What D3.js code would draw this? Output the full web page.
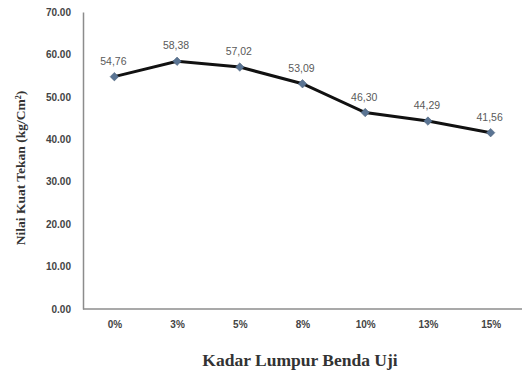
<!DOCTYPE html>
<html><head><meta charset="utf-8">
<script src="https://cdn.jsdelivr.net/npm/d3@7"></script>
<style>body{margin:0;background:#fff}svg{display:block}</style>
</head><body>
<script>
const categories = ["0%","3%","5%","8%","10%","13%","15%"];
const values = [54.76, 58.38, 57.02, 53.09, 46.30, 44.29, 41.56];
const valueLabels = ["54,76","58,38","57,02","53,09","46,30","44,29","41,56"];
const yTicks = [0,10,20,30,40,50,60,70];

const W = 525, H = 374;
const m = {left: 83, right: 3, top: 12, bottom: 65};
const svg = d3.select("body").append("svg").attr("width", W).attr("height", H);

const x = d3.scalePoint().domain(categories).range([m.left, W - m.right]).padding(0.5);
const y = d3.scaleLinear().domain([0, 70]).range([H - m.bottom, m.top]);

// y axis
const ya = svg.append("g").attr("transform", `translate(${m.left},0)`)
  .call(d3.axisLeft(y).tickValues(yTicks).tickSize(0).tickPadding(12).tickFormat(d => d3.format(".2f")(d)));
ya.select(".domain").attr("stroke", "#8c8c8c").attr("stroke-width", 1.5);
ya.selectAll("text").attr("font-family", "Liberation Sans, Arial, sans-serif").attr("font-size", 10).attr("font-weight", "bold").attr("fill", "#444");

// x axis
const xa = svg.append("g").attr("transform", `translate(0,${H - m.bottom})`)
  .call(d3.axisBottom(x).tickSize(0).tickPadding(12));
xa.select(".domain").attr("stroke", "#8c8c8c").attr("stroke-width", 1.5).attr("d", `M${m.left},0H${W - m.right}`);
xa.selectAll("text").attr("font-family", "Liberation Sans, Arial, sans-serif").attr("font-size", 10).attr("font-weight", "bold").attr("fill", "#444");

// line
const line = d3.line().x((d, i) => x(categories[i])).y(d => y(d));
svg.append("path").datum(values).attr("d", line).attr("fill", "none").attr("stroke", "#111").attr("stroke-width", 3);

// markers (square rotated 45 deg)
svg.selectAll(".pt").data(values).join("path").attr("class", "pt")
  .attr("d", d3.symbol(d3.symbolSquare, 36))
  .attr("transform", (d, i) => `translate(${x(categories[i])},${y(d)}) rotate(45)`)
  .attr("fill", "#5a7493").attr("stroke", "#4a5f78").attr("stroke-width", 0.5);

// data labels
svg.selectAll(".lbl").data(values).join("text").attr("class", "lbl")
  .attr("x", (d, i) => x(categories[i]) - 1)
  .attr("y", d => y(d) - 12)
  .attr("text-anchor", "middle")
  .attr("font-family", "Liberation Sans, Arial, sans-serif").attr("font-size", 10.5).attr("fill", "#5a5a5a")
  .text((d, i) => valueLabels[i]);

// axis titles
svg.append("text").attr("transform", `translate(25,168) rotate(-90)`)
  .attr("text-anchor", "middle").attr("font-family", "Liberation Serif, Times New Roman, serif")
  .attr("font-weight", "bold").attr("font-size", 13.5).attr("fill", "#333")
  .text("Nilai Kuat Tekan  (kg/Cm²)");
svg.append("text").attr("x", 300).attr("y", 366)
  .attr("text-anchor", "middle").attr("font-family", "Liberation Serif, Times New Roman, serif")
  .attr("font-weight", "bold").attr("font-size", 17.5).attr("fill", "#333")
  .text("Kadar Lumpur Benda Uji");
</script>
</body></html>
